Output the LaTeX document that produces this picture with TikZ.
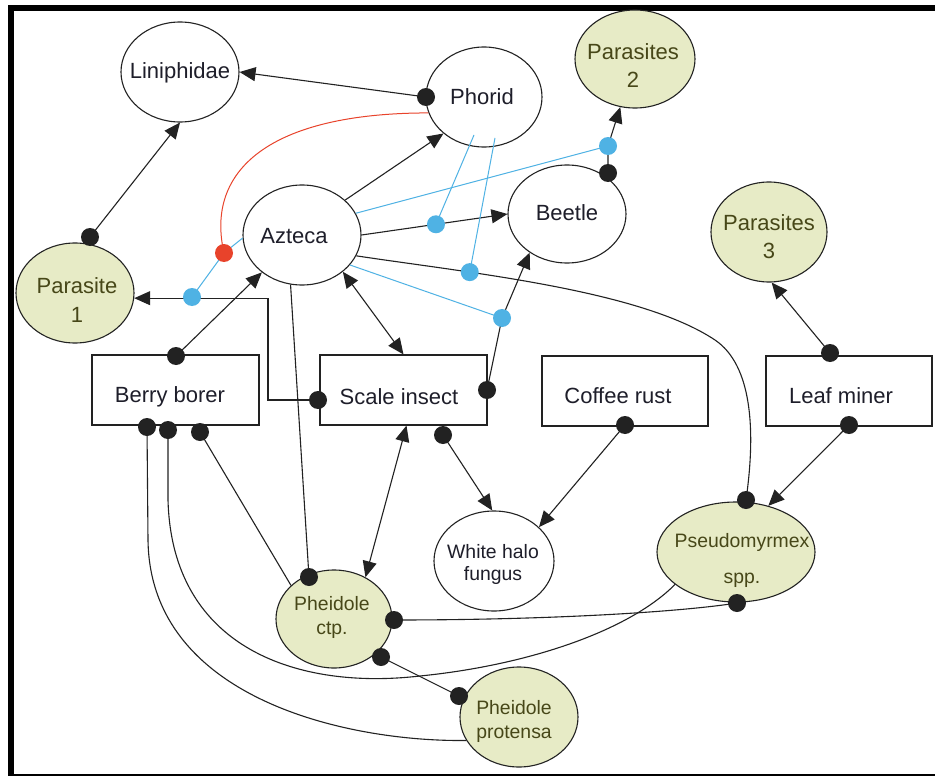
\documentclass[tikz,border=0pt]{standalone}
\usepackage{fontspec}
\setmainfont{Liberation Sans}
\usetikzlibrary{arrows.meta,calc,shapes.geometric}
\definecolor{ln}{HTML}{222222}
\definecolor{gfill}{HTML}{E7EBC6}
\definecolor{gtext}{HTML}{474718}
\definecolor{ttext}{HTML}{1E1E2A}
\definecolor{bl}{HTML}{4FB2E4}
\definecolor{rd}{HTML}{E8432B}
\begin{document}
\begin{tikzpicture}[x=1pt,y=-1pt,
  oval/.style={ellipse,draw=ln,line width=1.1pt,fill=white,inner sep=0pt,minimum width=118pt,minimum height=100pt},
  goval/.style={oval,fill=gfill},
  box/.style={rectangle,draw=ln,line width=1.1pt,fill=white,inner sep=0pt,minimum width=167pt,minimum height=70pt},
  lbl/.style={font=\fontsize{22}{28}\selectfont,text=ttext,align=center,inner sep=0pt},
  glbl/.style={lbl,text=gtext},
  slbl/.style={font=\fontsize{19.4}{24}\selectfont,text=gtext,align=center,inner sep=0pt},
  conn/.style={draw=ln,line width=1.1pt},
  arr/.style={conn,-{Triangle[length=16pt,width=14pt]}},
  darr/.style={conn,{Triangle[length=16pt,width=14pt]}-{Triangle[length=16pt,width=14pt]}},
  bconn/.style={draw=bl,line width=1pt},
  rconn/.style={draw=rd,line width=1pt}]
\useasboundingbox (0,0) rectangle (935,776);
\fill[white] (0,0) rectangle (935,776);
% frame
\fill[black] (8,5) rectangle (14,776);
\fill[black] (8,5) rectangle (935,11);
\fill[black] (8,774) rectangle (935,776);

% shapes
\node[oval] (lin) at (180,72) {};
\node[oval,minimum width=116pt] (ph) at (484,97) {};
\node[goval,minimum width=120pt,minimum height=98pt] (p2) at (635,59) {};
\node[oval] (az) at (302,235) {};
\node[goval] (p1) at (75,293) {};
\node[oval,minimum height=98pt] (be) at (567,214) {};
\node[goval,minimum width=116pt] (p3) at (769,232) {};
\node[box] (bb) at (175.5,390) {};
\node[box] (si) at (403.5,390) {};
\node[box,minimum width=166pt] (cr) at (625,391) {};
\node[box,minimum width=166pt] (lm) at (849,391) {};
\node[oval,minimum width=120pt] (wh) at (494,561) {};
\node[goval,minimum width=116pt,minimum height=98pt] (pc) at (334,619) {};
\node[goval] (pp) at (519,717) {};
\node[goval,minimum width=158pt] (pm) at (736,552) {};

% texts
\node[lbl] (t-lin) at (180,73) {Liniphidae};
\node[lbl] (t-ph) at (482,97) {Phorid};
\node[glbl] (t-p2) at (633,66) {Parasites\\2};
\node[lbl] (t-az) at (294,236) {Azteca};
\node[glbl,font=\fontsize{22}{29}\selectfont] (t-p1) at (77,300) {Parasite\\1};
\node[lbl] (t-be) at (567,213) {Beetle};
\node[glbl] (t-p3) at (769,237) {Parasites\\3};
\node[lbl] (t-bb) at (170,397) {Berry borer};
\node[lbl] (t-si) at (399,397) {Scale insect};
\node[lbl] (t-cr) at (618,396) {Coffee rust};
\node[lbl] (t-lm) at (841,396) {Leaf miner};
\node[slbl,text=ttext,font=\fontsize{19.4}{22}\selectfont] (t-wh) at (493,564) {White halo\\fungus};
\node[slbl] (t-pc) at (332,617) {Pheidole\\ctp.};
\node[slbl] (t-pp) at (514,721) {Pheidole\\protensa};
\node[slbl,font=\fontsize{19.4}{36}\selectfont] (t-pm) at (742,560) {Pseudomyrmex\\spp.};

% dot positions
\coordinate (d-ph) at (426,97);
\coordinate (d-p1) at (90,237);
\coordinate (d-bbt) at (176,356);
\coordinate (d-siw) at (318,400);
\coordinate (d-sie) at (487,390);
\coordinate (d-bet) at (608,173);
\coordinate (d-lmt) at (830,353);
\coordinate (d-crb) at (625,425);
\coordinate (d-lmb) at (849,425);
\coordinate (d-sib) at (443,435);
\coordinate (d-bb1) at (147,427);
\coordinate (d-bb2) at (168,430);
\coordinate (d-bb3) at (200,432);
\coordinate (d-pct) at (309,577);
\coordinate (d-pce) at (394,620);
\coordinate (d-pcs) at (381,657);
\coordinate (d-pp) at (459,696);
\coordinate (d-pmt) at (746,500);
\coordinate (d-pmb) at (737,603);
\coordinate (b3) at (608,146);
\coordinate (b4) at (502,318);
\coordinate (b5) at (192,297);
\coordinate (r1) at (224,253);

% black connectors
\draw[arr] (d-ph) -- (lin.east);
\draw[arr] (d-p1) -- (lin.south);
\draw[arr] (az.39) -- (ph.222);
\draw[arr] (d-siw) -- ++(-50,0) |- (p1.-5);
\draw[arr] (d-bbt) -- (az.223.5);
\draw[darr] (az.318.5) -- (si.north);
\draw[arr] (az.east) -- coordinate[pos=0.51] (b1) (be.west);
\draw[arr] (d-bet) -- (b3) -- (p2.253);
\draw[arr] (d-sie) -- (b4) -- (be.226.5);
\draw[conn] (az.-21.4) .. controls (470,273) and (640,290) .. coordinate[pos=0.3] (b2) (715,340)
  .. controls (752,365) and (756,430) .. (d-pmt);
\draw[arr] (d-lmt) -- (p3.273);
\draw[arr] (d-lmb) -- (pm.55.8);
\draw[arr] (d-crb) -- (wh.37.7);
\draw[arr] (d-sib) -- (wh.92);
\draw[darr] ([xshift=3pt]si.south) -- (pc.53);
\draw[conn] (az.257.6) -- (d-pct);
\draw[conn] (d-bb3) -- (pc.142);
\draw[conn] (d-bb1) -- (148,540) .. controls (150,700) and (350,742) .. (pp.204);
\draw[conn] (d-bb2) -- (168,500) .. controls (172,650) and (300,690) .. (420,676)
  .. controls (530,665) and (630,630) .. (pm.208);
\draw[conn] (d-pce) .. controls (550,620) and (680,612) .. (d-pmb);
\draw[conn] (d-pcs) -- (d-pp);

% red and blue modifiers
\draw[rconn] (ph.196) .. controls (270,113) and (205,170) .. (r1);
\draw[bconn] (az.183) -- (r1) -- (b5);
\draw[bconn] (az.22.5) -- (b3);
\draw[bconn] (az.328) -- (b4);
\draw[bconn] ($(ph)+(-10,38)$) -- (b1);
\draw[bconn] ($(ph)+(11,41)$) -- (b2);

% dots
\foreach \d in {d-ph,d-p1,d-bbt,d-siw,d-sie,d-bet,d-lmt,d-crb,d-lmb,d-sib,d-bb1,d-bb2,d-bb3,d-pct,d-pce,d-pcs,d-pp,d-pmt,d-pmb}
  \fill[ln] (\d) circle (9pt);
\foreach \d in {b1,b2,b3,b4,b5}
  \fill[bl] (\d) circle (9pt);
\fill[rd] (r1) circle (9pt);
\end{tikzpicture}
\end{document}
